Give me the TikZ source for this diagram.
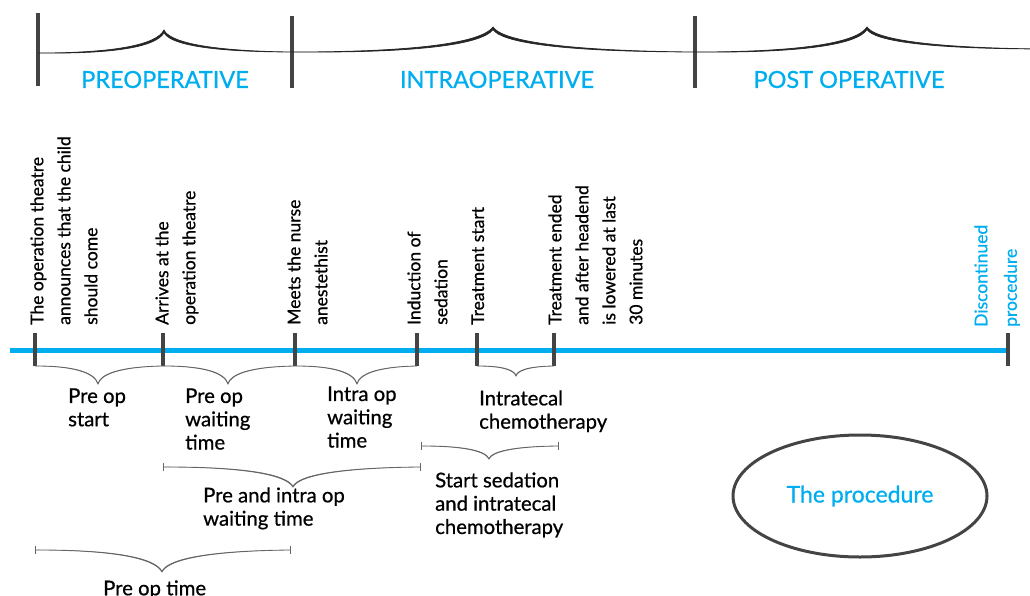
\documentclass[tikz,border=0pt]{standalone}
\usepackage{fontspec}
\setmainfont{Lato}[RawFeature={embolden=0.7}]
\usetikzlibrary{calc,shapes.geometric}
\definecolor{cy}{RGB}{0,174,239}
\definecolor{dk}{RGB}{68,68,68}
% curly brace: #2 left end, #3 right end, #4 tip, #5 extra thickness at the tip
\newcommand\curlybrace[5][]{%
  \filldraw[#1] let \p1=(#2), \p2=(#3), \p3=(#4), \n1={sign(\y1-\y3)*#5} in
   (\p1) .. controls ({\x1+0.6*(\x3-\x1)},\y1) and ({\x1+0.94*(\x3-\x1)},{\y1+0.35*(\y3-\y1)}) .. (\p3)
   .. controls ({\x3+0.04*(\x2-\x3)},{\y3+0.5*(\y2-\y3)}) and ({\x3+0.3*(\x2-\x3)},{\y3+0.95*(\y2-\y3)}) .. (\p2)
   .. controls ({\x3+0.3*(\x2-\x3)},{\y3+0.95*(\y2-\y3)+0.4*\n1}) and ({\x3+0.04*(\x2-\x3)},{\y3+0.5*(\y2-\y3)+0.8*\n1}) .. ({\x3},{\y3+\n1})
   .. controls ({\x1+0.94*(\x3-\x1)},{\y1+0.35*(\y3-\y1)+0.8*\n1}) and ({\x1+0.6*(\x3-\x1)},{\y1+0.4*\n1}) .. (\p1) -- cycle;
}
\tikzset{
 timeline/.style={draw=cy, line width=5pt},
 tickmark/.style={draw=dk, line width=4pt},
 topbar/.style={draw=dk, line width=4pt},
 topbr/.style={draw=black!85, fill=black!85, line width=0.7pt},
 lowbr/.style={draw=black!60, fill=black!60, line width=0.8pt},
 endbar/.style={draw=black!60, line width=0.9pt},
 vlab/.style={rotate=90, anchor=north west, inner sep=0pt, align=left, font=\fontsize{17.5}{27}\selectfont},
 hlab/.style={anchor=north west, inner sep=0pt, align=left, font=\fontsize{20.3}{23.3}\selectfont},
 title/.style={text=cy, font=\fontsize{23.5}{28}\selectfont, inner sep=0pt},
 proc/.style={ellipse, draw=dk, line width=3pt, minimum width=254pt, minimum height=122pt, inner sep=0pt, text=cy, font=\fontsize{23}{27}\selectfont}
}
\begin{document}
\begin{tikzpicture}[x=1pt,y=-1pt]
\useasboundingbox (0,0) rectangle (1030,596);
% ---- top phase bars and braces
\foreach \n/\x/\ya/\yb in {1/38/13/86, 2/292/16/88, 3/695/16/88}{
  \draw[topbar] (\x,\ya) -- (\x,\yb);
}
\coordinate (A1) at (38,53);
\coordinate (A2) at (292,52);
\coordinate (A3) at (695,52);
\coordinate (A4) at (1045,49);
\coordinate (AT1) at (164,30);
\coordinate (AT2) at (493,27);
\coordinate (AT3) at (867,27);
\curlybrace[topbr]{A1}{A2}{AT1}{2.6}
\curlybrace[topbr]{A2}{A3}{AT2}{2.6}
\curlybrace[topbr]{A3}{A4}{AT3}{2.6}
\node[title] (pre) at (165,79.5) {PREOPERATIVE};
\node[title] (intra) at (497,79.5) {INTRAOPERATIVE};
\node[title] (post) at (849,79.5) {POST OPERATIVE};
% ---- timeline
\coordinate (L0) at (10,350);
\coordinate (L1) at (1008,350);
\draw[timeline] (L0) -- (L1);
\foreach \n/\x in {1/35, 2/163, 3/295, 4/417, 5/477, 6/554, 7/1008}{
  \draw[tickmark] (\x,333) -- (\x,366);
  \coordinate (k\n) at (\x,366);
}
% ---- event labels (vertical)
\node[vlab] (e1) at (30.2,325) {The operation theatre\\announces that the child\\should come};
\node[vlab] (e2) at (155.2,325) {Arrives at the\\operation theatre};
\node[vlab] (e3) at (287.2,325) {Meets the nurse\\anestethist};
\node[vlab] (e4) at (407.2,325) {Induction of\\sedation};
\node[vlab] (e5) at (471.2,325) {Treatment start};
\node[vlab] (e6) at (548.2,325) {Treatment ended\\and after headend\\is lowered at last\\30 minutes};
\node[vlab, text=cy, font=\fontsize{17.5}{29.5}\selectfont] (e7) at (974.2,327) {Discontinued\\procedure};
% ---- braces under the timeline
\coordinate (T1) at (98,384);
\coordinate (T2) at (228,384);
\coordinate (T3) at (357,384);
\coordinate (T4) at (516,376);
\curlybrace[lowbr]{k1}{k2}{T1}{0.5}
\curlybrace[lowbr]{k2}{k3}{T2}{0.5}
\curlybrace[lowbr]{k3}{k4}{T3}{0.5}
\curlybrace[lowbr]{k5}{k6}{T4}{0.5}
\coordinate (C1) at (163,467);
\coordinate (C2) at (420,467);
\coordinate (CT) at (293,487);
\coordinate (D1) at (35,550);
\coordinate (D2) at (290,550);
\coordinate (DT) at (162,572);
\coordinate (E1) at (421,446);
\coordinate (E2) at (558,446);
\coordinate (ET) at (489,459);
\curlybrace[lowbr]{C1}{C2}{CT}{0.7}
\curlybrace[lowbr]{D1}{D2}{DT}{0.7}
\curlybrace[lowbr]{E1}{E2}{ET}{0.5}
\foreach \c in {C1,C2,D1,D2,E1,E2}{
  \draw[endbar] ($(\c)+(0,-4)$) -- ($(\c)+(0,4)$);
}
% ---- interval labels
\node[hlab] (h1) at (68,388.2) {Pre op\\start};
\node[hlab] (h2) at (185,388.2) {Pre op\\waiting\\time};
\node[hlab] (h3) at (327,386.2) {Intra op\\waiting\\time};
\node[hlab] (h4) at (479,390.2) {Intratecal\\chemotherapy};
\node[hlab] (h5) at (203,487.2) {Pre and intra op\\waiting time};
\node[hlab] (h6) at (103,580.2) {Pre op time};
\node[hlab] (h7) at (435,472.2) {Start sedation\\and intratecal\\chemotherapy};
% ---- procedure
\node[proc] (proc) at (860,496) {The procedure};
\end{tikzpicture}
\end{document}
